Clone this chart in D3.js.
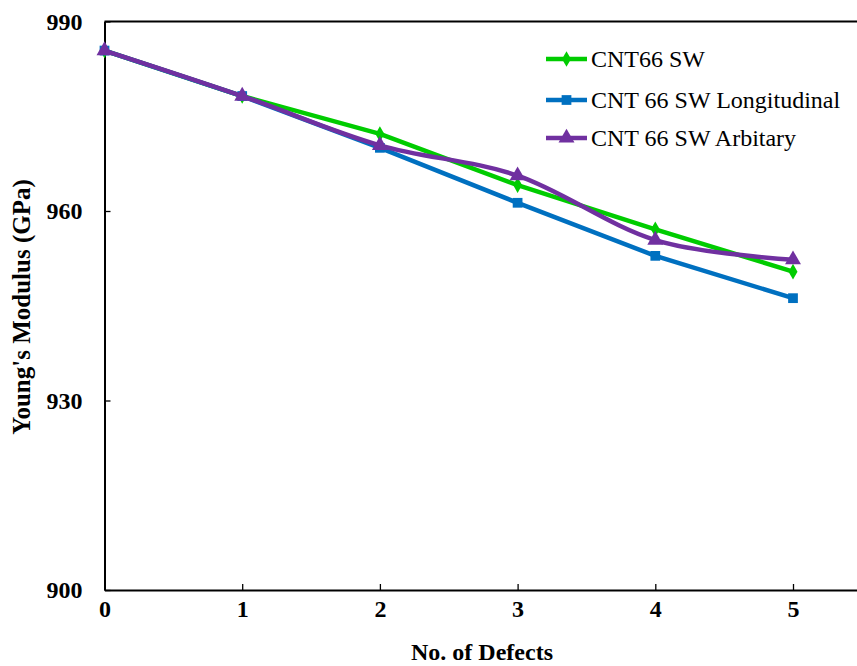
<!DOCTYPE html>
<html>
<head>
<meta charset="utf-8">
<script src="https://cdn.jsdelivr.net/npm/d3@7/dist/d3.min.js"></script>
<style>
  html, body { margin: 0; padding: 0; background: #fff; }
  svg { display: block; }
</style>
</head>
<body>
<svg id="chart" width="857" height="666"></svg>
<script>
// Young's modulus of CNT(6,6) against number of Stone-Wales defects
const defects = [0, 1, 2, 3, 4, 5];
const seriesNames = ["CNT66 SW", "CNT 66 SW Longitudinal", "CNT 66 SW Arbitary"];
const cntSW = [985.4, 978.2, 972.2, 964.1, 957.1, 950.4];
const cntLongitudinal = [985.4, 978.2, 970.0, 961.3, 952.9, 946.2];
const cntArbitary = [985.4, 978.2, 970.4, 965.6, 955.4, 952.3];
const xTicks = [0, 1, 2, 3, 4, 5];
const yTicks = [900, 930, 960, 990];

const colors = ["#00CC00", "#0070C0", "#7030A0"];
const markers = [d3.symbolDiamond, d3.symbolSquare, d3.symbolTriangle];
const markerSizes = [70, 95, 110];
const curves = [d3.curveLinear, d3.curveLinear, d3.curveCardinal.tension(0)];
const seriesValues = [cntSW, cntLongitudinal, cntArbitary];

const svg = d3.select("#chart");
const plotLeft = 104.5, plotBottom = 590, plotTop = 21.5;
const unitX = 137.7;

const x = d3.scaleLinear().domain([0, 6]).range([plotLeft, plotLeft + 6 * unitX]);
const y = d3.scaleLinear().domain([900, 990]).range([plotBottom, plotTop]);

const serif = "'Liberation Serif', 'Times New Roman', serif";

// plot frame (top edge)
svg.append("line")
  .attr("x1", plotLeft).attr("x2", x(6))
  .attr("y1", y(990)).attr("y2", y(990))
  .attr("stroke", "#000").attr("stroke-width", 2);

// x axis, ticks pointing inward
const xAxis = svg.append("g")
  .attr("transform", `translate(0,${plotBottom})`)
  .call(d3.axisBottom(x).tickValues(xTicks).tickSizeInner(-6).tickSizeOuter(0).tickPadding(10).tickFormat(d3.format("d")));
xAxis.select(".domain").attr("stroke-width", 2);
xAxis.selectAll(".tick line").attr("stroke-width", 1.3);
xAxis.selectAll("text").attr("font-family", serif).attr("font-size", 24).attr("font-weight", "bold").attr("fill", "#000");

// y axis, ticks pointing inward
const yAxis = svg.append("g")
  .attr("transform", `translate(${plotLeft},0)`)
  .call(d3.axisLeft(y).tickValues(yTicks).tickSizeInner(-6).tickSizeOuter(0).tickPadding(22).tickFormat(d3.format("d")));
yAxis.select(".domain").attr("stroke-width", 2);
yAxis.selectAll(".tick line").attr("stroke-width", 1.3);
yAxis.selectAll("text").attr("font-family", serif).attr("font-size", 24).attr("font-weight", "bold").attr("fill", "#000");

// axis titles
svg.append("text")
  .attr("x", 482).attr("y", 660)
  .attr("text-anchor", "middle")
  .attr("font-family", serif).attr("font-size", 24).attr("font-weight", "bold")
  .text("No. of Defects");

svg.append("text")
  .attr("transform", "translate(30,307) rotate(-90)")
  .attr("text-anchor", "middle")
  .attr("font-family", serif).attr("font-size", 25).attr("font-weight", "bold")
  .text("Young's Modulus (GPa)");

// series lines and markers
seriesValues.forEach((vals, i) => {
  const pts = defects.map((d, j) => [x(d), y(vals[j])]);
  svg.append("path")
    .attr("d", d3.line().curve(curves[i])(pts))
    .attr("fill", "none")
    .attr("stroke", colors[i])
    .attr("stroke-width", 4.5)
    .attr("stroke-linejoin", "round");
  svg.append("g").selectAll("path")
    .data(pts)
    .join("path")
    .attr("transform", p => `translate(${p[0]},${p[1]})`)
    .attr("d", d3.symbol().type(markers[i]).size(markerSizes[i]))
    .attr("fill", colors[i]);
});

// legend
const legendRows = [59, 100, 138];
seriesNames.forEach((name, i) => {
  const g = svg.append("g").attr("transform", `translate(546,${legendRows[i]})`);
  g.append("line").attr("x1", 0).attr("x2", 41).attr("y1", 0).attr("y2", 0)
    .attr("stroke", colors[i]).attr("stroke-width", 4.5);
  g.append("path").attr("transform", "translate(20.5,0)")
    .attr("d", d3.symbol().type(markers[i]).size(markerSizes[i]))
    .attr("fill", colors[i]);
  g.append("text").attr("x", 45).attr("y", 8)
    .attr("font-family", serif).attr("font-size", 24)
    .attr("fill", "#000")
    .text(name);
});
</script>
</body>
</html>
